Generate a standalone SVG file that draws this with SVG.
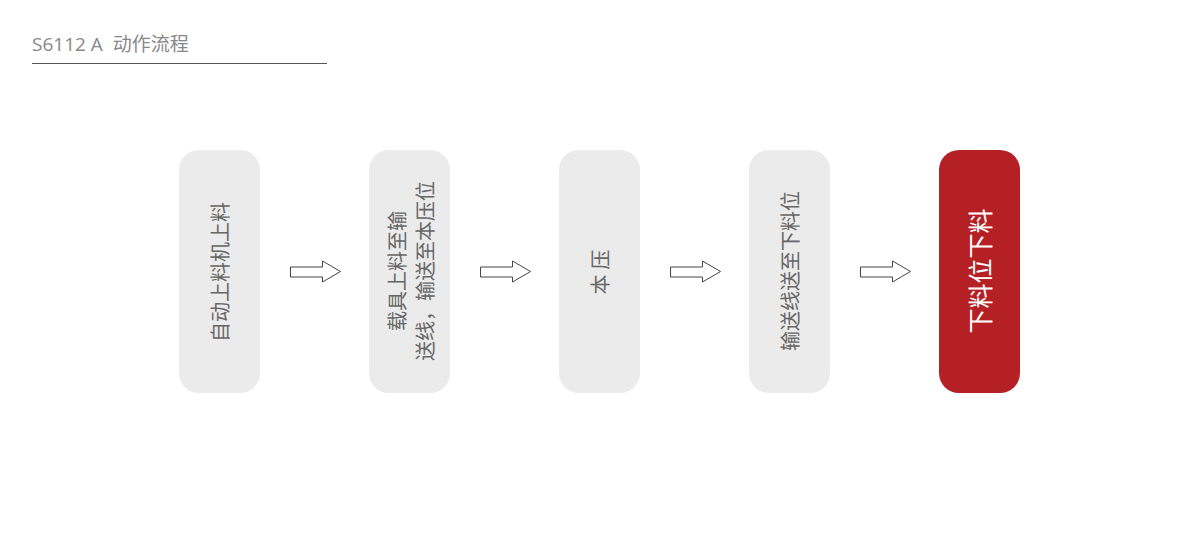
<svg xmlns="http://www.w3.org/2000/svg" width="1200" height="544" viewBox="0 0 1200 544">
<defs>
<style>
.box{fill:#ebebeb;}
.hl{fill:#b52025;}
.t{font-family:"Open Sans","Noto Sans CJK SC",sans-serif;font-size:20px;fill:#666;text-anchor:middle;dominant-baseline:central;}
.tw{font-family:"Open Sans","Noto Sans CJK SC",sans-serif;font-size:25px;fill:#fff;text-anchor:middle;dominant-baseline:central;}
.arr{fill:#fff;stroke:#444;stroke-width:1;}
</style>
<path id="ar" d="M0,0 H32 V-6 L50,4.5 L32,15 V10 H0 Z"/>
</defs>
<rect width="1200" height="544" fill="#fff"/>
<g id="title">
<text x="32" y="51" font-family="Open Sans,Noto Sans CJK SC,sans-serif" font-size="19" fill="#888" style="white-space:pre">S6112 A  动作流程</text>
<line x1="32" y1="63.5" x2="327" y2="63.5" stroke="#555" stroke-width="1"/>
</g>
<g id="n1"><rect class="box" x="179" y="150" width="81" height="243" rx="20"/>
<text class="t" transform="translate(220,272) rotate(-90)">自动上料机上料</text></g>
<g id="n2"><rect class="box" x="369" y="150" width="81" height="243" rx="20"/>
<text class="t" transform="translate(410,271) rotate(-90)"><tspan x="0" y="-13">载具上料至输</tspan><tspan x="0" y="15">送线，输送至本压位</tspan></text></g>
<g id="n3"><rect class="box" x="559" y="150" width="81" height="243" rx="20"/>
<text class="t" transform="translate(600,272) rotate(-90)">本 压</text></g>
<g id="n4"><rect class="box" x="749" y="150" width="81" height="243" rx="20"/>
<text class="t" transform="translate(790,271) rotate(-90)">输送线送至下料位</text></g>
<g id="n5"><rect class="hl" x="939" y="150" width="81" height="243" rx="20"/>
<text class="tw" transform="translate(980,271) rotate(-90)">下料位下料</text></g>
<g id="connectors">
<use href="#ar" class="arr" transform="translate(290.5,267)"/>
<use href="#ar" class="arr" transform="translate(480.5,267)"/>
<use href="#ar" class="arr" transform="translate(670.5,267)"/>
<use href="#ar" class="arr" transform="translate(860.5,267)"/>
</g>
</svg>
